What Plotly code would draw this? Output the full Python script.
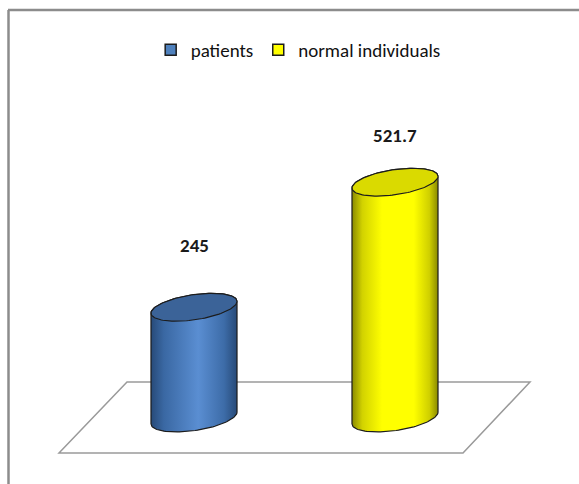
import numpy as np
import plotly.graph_objects as go

# ---- data ----
categories = ["patients", "normal individuals"]
values = [245, 521.7]
labels = ["245", "521.7"]

# ---- styles ----
body_scales = [
    [[0, "#274a78"], [0.15, "#3a68a3"], [0.55, "#5a8ed2"], [0.85, "#3d6ca8"], [1, "#274a78"]],
    [[0, "#8a8a00"], [0.12, "#d2d200"], [0.35, "#ffff00"], [0.72, "#ffff00"], [0.9, "#cfcf00"], [1, "#8a8a00"]],
]
top_colors = ["#3b6398", "#dada00"]
legend_colors = ["#4f81bd", "#ffff00"]
label_shift = [62, 47]
FONT = "Carlito, Lato, 'Open Sans', sans-serif"
A = 0.214   # half width in category units
B = 28.0    # ellipse half height (value units)
K = 13.0    # ellipse tilt (value units)

PX_X0, PX_PER_X = 194.0, 201.0
PX_Y0, PX_PER_Y = 418.0, 0.452
W, H = 579, 484
xr = [(0 - PX_X0) / PX_PER_X, (W - PX_X0) / PX_PER_X]
yr = [(PX_Y0 - H) / PX_PER_Y, PX_Y0 / PX_PER_Y]

def px2x(p):
    return (p - PX_X0) / PX_PER_X

def px2y(p):
    return (PX_Y0 - p) / PX_PER_Y

fig = go.Figure()

for i, (name, v) in enumerate(zip(categories, values)):
    cx = i
    t1 = np.linspace(np.pi, 2 * np.pi, 60)
    t2 = np.linspace(0, np.pi, 60)
    bx = cx + A * np.cos(t1)
    by = 0 + B * np.sin(t1) + K * np.cos(t1)
    tx = cx + A * np.cos(t2)
    ty = v + B * np.sin(t2) + K * np.cos(t2)
    xs = np.concatenate([bx, tx, bx[:1]])
    ys = np.concatenate([by, ty, by[:1]])
    fig.add_trace(go.Scatter(
        x=xs, y=ys, mode="lines", fill="toself",
        fillgradient=dict(type="horizontal", colorscale=body_scales[i],
                          start=cx - A, stop=cx + A),
        line=dict(color="#1c1c1c", width=1.2),
        showlegend=False, hoverinfo="skip"))
    t = np.linspace(0, 2 * np.pi, 120)
    ex = cx + A * np.cos(t)
    ey = v + B * np.sin(t) + K * np.cos(t)
    fig.add_trace(go.Scatter(
        x=ex, y=ey, mode="lines", fill="toself", fillcolor=top_colors[i],
        line=dict(color="#1c1c1c", width=1.2),
        showlegend=False, hoverinfo="skip"))
    fig.add_annotation(x=cx, y=v, text=labels[i], showarrow=False,
                       yshift=label_shift[i],
                       font=dict(family=FONT, size=19,
                                 color="#1a1a1a", weight="bold"))

for i, name in enumerate(categories):
    fig.add_trace(go.Scatter(
        x=[None], y=[None], mode="markers", name=name,
        marker=dict(symbol="square", size=11, color=legend_colors[i],
                    line=dict(color="#1c1c1c", width=1.5))))

# floor parallelogram
floor = [(127, 382), (530, 382), (463, 453), (59, 453)]
path = "M " + " L ".join(f"{px2x(a)},{px2y(b)}" for a, b in floor) + " Z"
fig.add_shape(type="path", path=path, xref="x", yref="y",
              line=dict(color="#9a9a9a", width=1.5), fillcolor="rgba(0,0,0,0)",
              layer="below")

# outer frame (top and left)
fig.add_shape(type="line", xref="paper", yref="paper",
              x0=8 / W, x1=1, y0=1 - 10 / H, y1=1 - 10 / H,
              line=dict(color="#8c8c8c", width=2.5))
fig.add_shape(type="line", xref="paper", yref="paper",
              x0=8.5 / W, x1=8.5 / W, y0=0, y1=1 - 10 / H,
              line=dict(color="#8c8c8c", width=2.5))

fig.update_layout(
    width=W, height=H,
    margin=dict(l=0, r=0, t=0, b=0),
    paper_bgcolor="white", plot_bgcolor="white",
    xaxis=dict(range=xr, visible=False, fixedrange=True),
    yaxis=dict(range=yr, visible=False, fixedrange=True),
    legend=dict(orientation="h", x=0.515, xanchor="center",
                y=1 - 50 / H, yanchor="middle",
                font=dict(family=FONT, size=19, color="#111"),
                itemwidth=30, tracegroupgap=0, bgcolor="rgba(0,0,0,0)"),
)

fig.write_html("out.html")
